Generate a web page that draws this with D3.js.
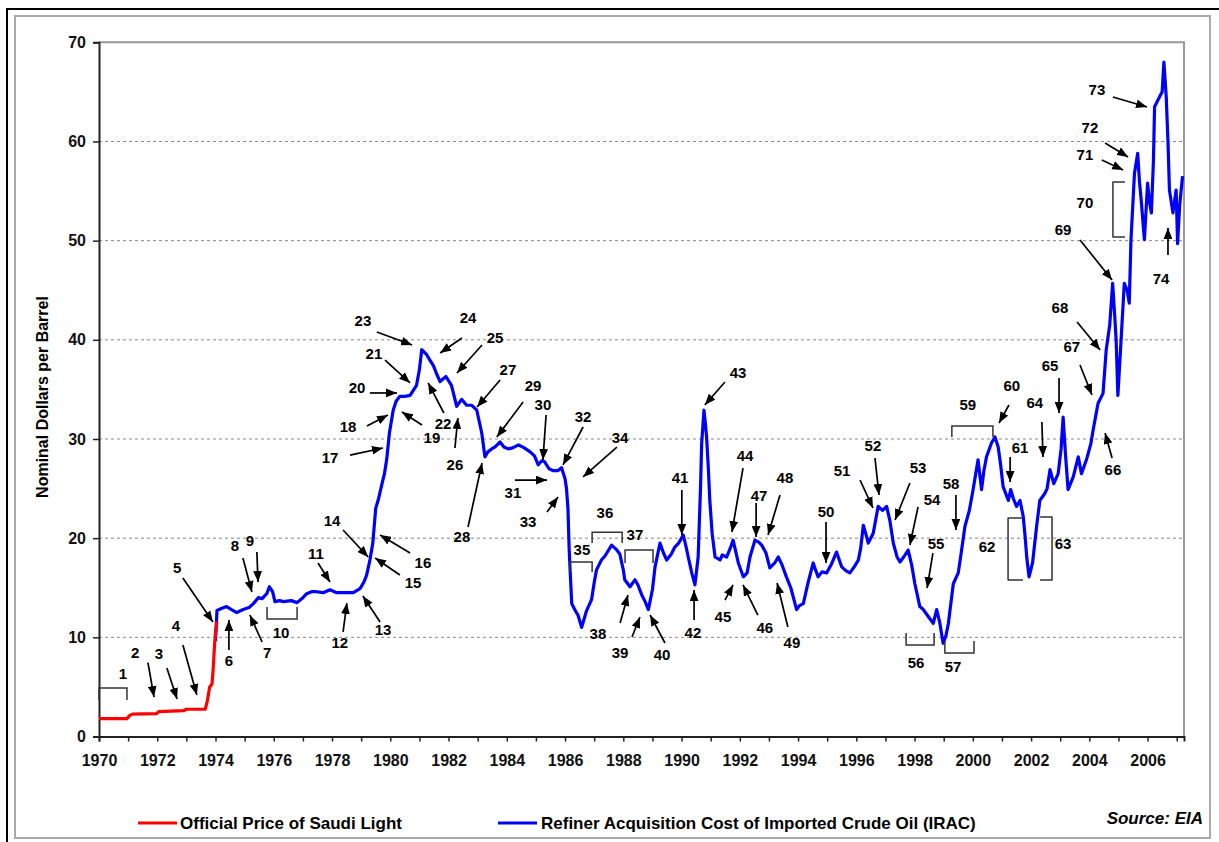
<!DOCTYPE html>
<html>
<head>
<meta charset="utf-8">
<script src="https://cdn.jsdelivr.net/npm/d3@7"></script>
<style>
  body { margin: 0; background: #fff; }
  svg text { font-family: "Liberation Sans", Arial, sans-serif; }
</style>
</head>
<body>
<script>
'use strict';

// official price of Saudi Light, [year, $/bbl]
const saudiLight = [
  [1970.0, 1.8], [1970.96, 1.8], [1971.05, 2.1], [1971.15, 2.25], [1971.97, 2.3],
  [1972.05, 2.5], [1972.9, 2.6], [1973.0, 2.75], [1973.65, 2.75], [1973.72, 3.6],
  [1973.8, 5.0], [1973.88, 5.3], [1973.92, 6.8], [1973.97, 9.4], [1974.0, 10.5], [1974.05, 11.6]
];

// refiner acquisition cost of imported crude (IRAC), [year, $/bbl]
const irac = [
  [1974.0, 9.6], [1974.05, 12.7], [1974.2, 12.9], [1974.38, 13.1], [1974.55, 12.8], [1974.73, 12.5],
  [1974.95, 12.8], [1975.15, 13.0], [1975.3, 13.4], [1975.47, 14.0], [1975.6, 13.9], [1975.76, 14.4],
  [1975.85, 15.1], [1975.96, 14.6], [1976.04, 13.6], [1976.2, 13.7], [1976.33, 13.6], [1976.6, 13.7],
  [1976.8, 13.5], [1977.0, 14.0], [1977.13, 14.4], [1977.3, 14.6], [1977.47, 14.6], [1977.7, 14.5],
  [1977.93, 14.8], [1978.16, 14.5], [1978.5, 14.5], [1978.73, 14.5], [1978.96, 14.9], [1979.1, 15.6],
  [1979.19, 16.3], [1979.3, 17.8], [1979.4, 19.5], [1979.5, 23.0], [1979.6, 24.0], [1979.7, 25.3],
  [1979.8, 26.5], [1979.88, 28.0], [1979.97, 30.6], [1980.1, 32.9], [1980.2, 33.8], [1980.33, 34.3],
  [1980.5, 34.3], [1980.68, 34.4], [1980.9, 35.4], [1981.0, 37.0], [1981.08, 39.0], [1981.25, 38.5],
  [1981.35, 38.0], [1981.48, 37.4], [1981.6, 36.5], [1981.71, 35.8], [1981.91, 36.3], [1982.1, 35.4],
  [1982.28, 33.3], [1982.45, 34.0], [1982.62, 33.4], [1982.8, 33.4], [1982.97, 32.9], [1983.14, 30.6],
  [1983.25, 28.2], [1983.35, 28.7], [1983.48, 29.0], [1983.6, 29.2], [1983.77, 29.7], [1983.9, 29.2],
  [1984.05, 29.0], [1984.2, 29.1], [1984.4, 29.4], [1984.6, 29.1], [1984.8, 28.7], [1984.95, 28.3],
  [1985.08, 27.4], [1985.2, 27.8], [1985.3, 27.7], [1985.45, 27.0], [1985.6, 26.8], [1985.75, 26.8],
  [1985.88, 27.1], [1986.0, 26.0], [1986.05, 25.0], [1986.1, 23.0], [1986.14, 19.0], [1986.17, 17.0],
  [1986.23, 13.4], [1986.35, 12.7], [1986.45, 12.2], [1986.57, 11.0], [1986.66, 11.9], [1986.74, 12.7],
  [1986.91, 13.8], [1987.0, 15.5], [1987.08, 16.8], [1987.25, 17.8], [1987.37, 18.2], [1987.6, 19.3],
  [1987.75, 18.9], [1987.88, 18.4], [1988.0, 16.8], [1988.05, 15.8], [1988.23, 15.1], [1988.4, 15.8],
  [1988.5, 15.3], [1988.63, 14.3], [1988.75, 13.6], [1988.86, 12.8], [1989.0, 14.8], [1989.09, 17.1],
  [1989.26, 19.5], [1989.38, 18.5], [1989.49, 17.8], [1989.65, 18.4], [1989.77, 19.1], [1989.9, 19.5],
  [1990.06, 20.3], [1990.15, 19.2], [1990.23, 18.1], [1990.35, 16.5], [1990.46, 15.3], [1990.57, 18.1],
  [1990.65, 25.0], [1990.69, 29.5], [1990.77, 32.9], [1990.82, 31.5], [1990.86, 30.2], [1990.92, 27.0],
  [1990.97, 23.8], [1991.05, 20.5], [1991.15, 18.1], [1991.32, 17.8], [1991.4, 18.3], [1991.55, 18.1],
  [1991.7, 19.2], [1991.77, 19.8], [1991.95, 17.5], [1992.12, 16.1], [1992.25, 16.5], [1992.35, 18.1],
  [1992.52, 19.8], [1992.65, 19.6], [1992.75, 19.3], [1992.9, 18.5], [1993.03, 17.0], [1993.2, 17.5],
  [1993.32, 18.1], [1993.45, 17.3], [1993.6, 16.1], [1993.75, 15.0], [1993.95, 12.8], [1994.05, 13.2],
  [1994.18, 13.4], [1994.35, 15.6], [1994.52, 17.5], [1994.6, 16.8], [1994.69, 16.1], [1994.82, 16.6],
  [1994.98, 16.5], [1995.15, 17.4], [1995.32, 18.6], [1995.5, 17.1], [1995.65, 16.7], [1995.78, 16.5],
  [1995.95, 17.2], [1996.07, 17.8], [1996.15, 19.0], [1996.24, 21.3], [1996.32, 20.5], [1996.41, 19.5],
  [1996.58, 20.5], [1996.75, 23.2], [1996.9, 22.8], [1997.04, 23.2], [1997.15, 21.8], [1997.27, 19.5],
  [1997.4, 18.1], [1997.5, 17.6], [1997.65, 18.2], [1997.78, 18.8], [1997.9, 17.3], [1998.01, 15.4],
  [1998.18, 13.1], [1998.3, 12.8], [1998.47, 12.1], [1998.64, 11.4], [1998.76, 12.8], [1998.87, 11.4],
  [1998.98, 9.4], [1999.08, 10.2], [1999.16, 11.4], [1999.33, 15.4], [1999.5, 16.5], [1999.6, 18.5],
  [1999.73, 21.2], [1999.88, 22.8], [2000.01, 24.9], [2000.1, 26.5], [2000.18, 27.9], [2000.3, 24.9],
  [2000.38, 26.8], [2000.47, 28.2], [2000.64, 29.6], [2000.76, 30.2], [2000.87, 29.2], [2000.95, 27.5],
  [2001.04, 25.2], [2001.22, 23.8], [2001.3, 24.9], [2001.39, 24.0], [2001.5, 23.2], [2001.62, 23.8],
  [2001.73, 22.2], [2001.8, 20.0], [2001.85, 18.1], [2001.93, 16.1], [2002.05, 17.5], [2002.19, 21.2],
  [2002.3, 23.8], [2002.47, 24.5], [2002.55, 25.0], [2002.65, 26.9], [2002.78, 25.5], [2002.93, 26.5],
  [2003.03, 29.0], [2003.1, 32.2], [2003.18, 28.5], [2003.27, 24.9], [2003.45, 26.2], [2003.62, 28.2],
  [2003.73, 26.5], [2003.9, 27.9], [2004.05, 29.5], [2004.13, 30.9], [2004.3, 33.6], [2004.47, 34.6],
  [2004.58, 39.0], [2004.7, 41.5], [2004.8, 45.7], [2004.88, 42.0], [2004.92, 40.0], [2004.98, 34.4],
  [2005.1, 40.5], [2005.2, 45.7], [2005.3, 45.0], [2005.37, 43.7], [2005.43, 50.1], [2005.55, 56.8],
  [2005.66, 58.8], [2005.72, 56.0], [2005.78, 54.1], [2005.89, 50.1], [2006.0, 55.8], [2006.06, 54.0],
  [2006.13, 52.8], [2006.2, 58.0], [2006.24, 63.5], [2006.41, 64.5], [2006.5, 65.0], [2006.56, 68.0],
  [2006.64, 64.5], [2006.7, 60.0], [2006.75, 55.1], [2006.87, 52.8], [2006.98, 55.1], [2007.03, 49.7],
  [2007.1, 53.5], [2007.2, 56.5]
];

const yTicks = [0, 10, 20, 30, 40, 50, 60, 70];
const yearTicks = d3.range(1970, 2008, 1);

// event numbers: [label, year, value]
const eventLabels = [
  ["1", 1970.82, 6.4], ["2", 1971.24, 8.42], ["3", 1972.06, 8.32], ["4", 1972.64, 11.24],
  ["5", 1972.68, 17.09], ["6", 1974.46, 7.71], ["7", 1975.77, 8.52], ["8", 1974.67, 19.31],
  ["9", 1975.18, 19.81], ["10", 1976.25, 10.44], ["11", 1977.45, 18.5], ["12", 1978.27, 9.43],
  ["13", 1979.75, 10.74], ["14", 1978.0, 21.83], ["15", 1980.78, 15.48], ["16", 1981.12, 17.5],
  ["17", 1977.93, 28.18], ["18", 1978.55, 31.21], ["19", 1981.43, 30.2], ["20", 1978.86, 35.24],
  ["21", 1979.44, 38.67], ["22", 1981.81, 31.61], ["23", 1979.06, 41.9], ["24", 1982.67, 42.2],
  ["25", 1983.6, 40.28], ["26", 1982.22, 27.38], ["27", 1984.04, 36.96], ["28", 1982.46, 20.12],
  ["29", 1984.9, 35.44], ["30", 1985.24, 33.43], ["31", 1984.21, 24.56], ["32", 1986.62, 32.22],
  ["33", 1984.73, 21.63], ["34", 1987.89, 30.2], ["35", 1986.58, 18.83], ["36", 1987.37, 22.54],
  ["37", 1988.4, 20.32], ["38", 1987.13, 10.34], ["39", 1987.89, 8.52], ["40", 1989.33, 8.22],
  ["41", 1989.95, 26.07], ["42", 1990.39, 10.44], ["43", 1991.94, 36.75], ["44", 1992.18, 28.38],
  ["45", 1991.42, 12.05], ["46", 1992.86, 11.04], ["47", 1992.66, 24.35], ["48", 1993.55, 26.07],
  ["49", 1993.79, 9.43], ["50", 1994.96, 22.64], ["51", 1995.51, 26.87], ["52", 1996.57, 29.39],
  ["53", 1998.12, 27.17], ["54", 1998.6, 23.85], ["55", 1998.74, 19.51], ["56", 1998.05, 7.51],
  ["57", 1999.32, 7.01], ["58", 1999.25, 25.56], ["59", 1999.83, 33.43], ["60", 2001.34, 35.44],
  ["61", 2001.62, 29.19], ["62", 2000.49, 19.11], ["63", 2003.1, 19.51], ["64", 2002.13, 33.63],
  ["65", 2002.65, 37.46], ["66", 2004.81, 26.97], ["67", 2003.4, 39.28], ["68", 2002.99, 43.21],
  ["69", 2003.1, 51.08], ["70", 2003.85, 53.8], ["71", 2003.85, 58.64], ["72", 2004.02, 61.37],
  ["73", 2004.26, 65.2], ["74", 2006.46, 46.23]
];

// arrows: [fromYear, fromValue, toYear, toValue] (head at "to")
const eventArrows = [
  [1971.68, 7.45, 1971.89, 3.98], [1972.33, 6.91, 1972.68, 3.78], [1972.88, 9.23, 1973.36, 4.18],
  [1972.88, 15.98, 1973.91, 11.55], [1974.46, 8.72, 1974.46, 11.75], [1975.6, 9.53, 1975.18, 12.25],
  [1974.94, 18.0, 1975.25, 14.57], [1975.42, 18.6, 1975.46, 15.58], [1977.52, 17.5, 1977.93, 15.58],
  [1978.38, 10.54, 1978.51, 13.46], [1979.65, 11.55, 1979.06, 14.17], [1978.38, 20.82, 1979.24, 18.1],
  [1980.33, 16.28, 1979.48, 18.0], [1980.68, 18.5, 1979.65, 20.32], [1978.62, 28.38, 1979.75, 29.09],
  [1979.2, 31.31, 1979.92, 32.42], [1981.09, 31.41, 1980.4, 32.72], [1979.3, 34.64, 1980.23, 34.64],
  [1979.82, 37.96, 1980.68, 35.65], [1981.84, 32.62, 1981.3, 35.65], [1979.54, 40.79, 1980.75, 39.48],
  [1982.46, 40.18, 1981.71, 38.67], [1983.15, 39.48, 1982.29, 36.65], [1982.22, 29.09, 1982.32, 32.12],
  [1983.77, 35.95, 1982.98, 33.23], [1982.67, 21.13, 1983.15, 27.58], [1984.56, 33.73, 1983.66, 30.2],
  [1985.35, 32.42, 1985.24, 27.88], [1984.28, 25.86, 1985.38, 25.86], [1986.62, 31.21, 1985.93, 27.38],
  [1985.38, 22.64, 1985.76, 24.15], [1987.78, 29.19, 1986.62, 26.17], [1987.89, 11.45, 1988.16, 14.27],
  [1988.3, 10.03, 1988.57, 12.05], [1989.43, 9.43, 1988.92, 12.25], [1990.01, 24.86, 1990.01, 20.32],
  [1990.43, 11.75, 1990.43, 14.77], [1991.49, 35.75, 1990.8, 33.43], [1992.11, 27.07, 1991.73, 20.62],
  [1991.49, 13.76, 1991.77, 15.28], [1992.62, 12.25, 1992.11, 15.28], [1992.56, 23.55, 1992.56, 20.12],
  [1993.38, 24.35, 1992.97, 20.32], [1993.65, 11.04, 1993.28, 15.48], [1994.96, 21.63, 1994.96, 17.5],
  [1996.13, 25.86, 1996.57, 23.04], [1996.64, 28.08, 1996.78, 24.35], [1997.84, 25.56, 1997.33, 21.83],
  [1998.12, 23.15, 1997.84, 19.31], [1998.63, 18.5, 1998.43, 14.97], [1999.42, 24.35, 1999.42, 20.82],
  [2001.24, 33.43, 2000.9, 31.61], [2001.28, 28.18, 2001.28, 25.66], [2002.37, 31.71, 2002.41, 28.18],
  [2002.96, 36.15, 2002.96, 32.62], [2004.78, 28.08, 2004.54, 30.6], [2003.68, 37.46, 2004.09, 34.44],
  [2003.58, 41.8, 2004.37, 38.98], [2003.68, 50.07, 2004.78, 46.03], [2004.43, 58.13, 2005.16, 57.12],
  [2004.54, 59.85, 2005.33, 58.44], [2004.81, 64.49, 2005.98, 63.48], [2006.7, 48.55, 2006.7, 51.27]
];

// horizontal brackets: [fromYear, toYear, barValue, legValue]
const hBrackets = [
  [1970.0, 1970.96, 4.89, 3.68], [1975.77, 1976.8, 11.85, 13.06], [1986.17, 1986.93, 17.6, 16.6],
  [1986.93, 1987.96, 20.6, 19.5], [1988.06, 1989.02, 18.8, 17.5], [1997.71, 1998.67, 9.23, 10.44],
  [1999.04, 2000.04, 8.42, 9.63], [1999.28, 2000.69, 31.31, 30.2]
];
// vertical brackets: [barYear, legYear, topValue, bottomValue]
const vBrackets = [
  [2001.21, 2001.72, 22.03, 15.78], [2002.72, 2002.31, 22.13, 15.78], [2004.81, 2005.22, 55.92, 50.37]
];

const svg = d3.select('body').append('svg')
  .attr('width', 1219)
  .attr('height', 842);

// frame
svg.append('rect').attr('x', 7).attr('y', 9).attr('width', 1230).attr('height', 850)
  .style('fill', 'none').style('stroke', '#000').style('stroke-width', 2);
svg.append('rect').attr('x', 15).attr('y', 16).attr('width', 1195).attr('height', 822)
  .style('fill', 'none').style('stroke', '#aaa').style('stroke-width', 2);

const x = d3.scaleLinear().domain([1970, 2007.25]).range([99, 1184]);
const y = d3.scaleLinear().domain([0, 70]).range([736.5, 42.3]);

// grid lines
svg.append('g').selectAll('line')
  .data(yTicks.filter(d => d > 0 && d < 70))
  .enter().append('line')
  .attr('x1', x(1970)).attr('x2', x(2007.25))
  .attr('y1', d => y(d)).attr('y2', d => y(d))
  .style('stroke', '#888').style('stroke-width', 1).style('stroke-dasharray', '3,3');

// plot border top/right
svg.append('path')
  .attr('d', `M${x(1970)},${y(70)}H${x(2007.25)}V${y(0)}`)
  .style('fill', 'none').style('stroke', '#999').style('stroke-width', 2);

// y axis
const yAxis = svg.append('g')
  .attr('transform', `translate(${x(1970)},0)`)
  .call(d3.axisLeft(y).tickValues(yTicks).tickSize(6).tickPadding(7));
yAxis.select('.domain').style('stroke', '#222').style('stroke-width', 2);
yAxis.selectAll('.tick line').style('stroke', '#222').style('stroke-width', 1.5);
yAxis.selectAll('text')
  .style('font-size', '16px').style('font-weight', 'bold').style('fill', '#111');

// x axis: ticks every year, labels every other year
const xAxis = svg.append('g')
  .attr('transform', `translate(0,${y(0)})`)
  .call(d3.axisBottom(x).tickValues(yearTicks).tickSize(5).tickPadding(13)
    .tickFormat(d => (d % 2 === 0 && d < 2007) ? String(d) : ''));
xAxis.select('.domain').style('stroke', '#222').style('stroke-width', 2);
xAxis.selectAll('.tick line').style('stroke', '#222').style('stroke-width', 1.5);
xAxis.selectAll('text')
  .style('font-size', '16px').style('font-weight', 'bold').style('fill', '#111');

svg.append('text')
  .attr('transform', 'translate(48,397)rotate(-90)')
  .attr('text-anchor', 'middle')
  .style('font-size', '16px').style('font-weight', 'bold')
  .text('Nominal Dollars per Barrel');

// series
const line = d3.line().x(d => x(d[0])).y(d => y(d[1]));
svg.append('path').datum(irac).attr('d', line)
  .style('fill', 'none').style('stroke', '#0000ff').style('stroke-width', 3.2)
  .style('stroke-linejoin', 'round');
svg.append('path').datum(saudiLight).attr('d', line)
  .style('fill', 'none').style('stroke', '#ff0000').style('stroke-width', 3.2)
  .style('stroke-linejoin', 'round');

// arrow head
svg.append('defs').append('marker')
  .attr('id', 'head')
  .attr('markerUnits', 'userSpaceOnUse')
  .attr('viewBox', '0 0 10 8')
  .attr('refX', 10).attr('refY', 4)
  .attr('markerWidth', 11).attr('markerHeight', 9)
  .attr('orient', 'auto')
  .append('path').attr('d', 'M0,0L10,4L0,8Z').style('fill', '#000');

svg.append('g').selectAll('line')
  .data(eventArrows)
  .enter().append('line')
  .attr('x1', d => x(d[0])).attr('y1', d => y(d[1]))
  .attr('x2', d => x(d[2])).attr('y2', d => y(d[3]))
  .style('stroke', '#000').style('stroke-width', 1.7)
  .attr('marker-end', 'url(#head)');

svg.append('g').selectAll('path')
  .data(hBrackets)
  .enter().append('path')
  .attr('d', d => `M${x(d[0])},${y(d[3])}V${y(d[2])}H${x(d[1])}V${y(d[3])}`)
  .style('fill', 'none').style('stroke', '#333').style('stroke-width', 1.5);

svg.append('g').selectAll('path')
  .data(vBrackets)
  .enter().append('path')
  .attr('d', d => `M${x(d[1])},${y(d[2])}H${x(d[0])}V${y(d[3])}H${x(d[1])}`)
  .style('fill', 'none').style('stroke', '#333').style('stroke-width', 1.5)
  .style('stroke-linejoin', 'round');

svg.append('g').selectAll('text')
  .data(eventLabels)
  .enter().append('text')
  .attr('x', d => x(d[1])).attr('y', d => y(d[2]))
  .attr('text-anchor', 'middle')
  .attr('dominant-baseline', 'central')
  .style('font-size', '15px').style('font-weight', 'bold').style('fill', '#000')
  .text(d => d[0]);

// legend
const legend = svg.append('g').style('font-size', '17px').style('font-weight', 'bold');
legend.append('line').attr('x1', 138).attr('x2', 177).attr('y1', 823).attr('y2', 823)
  .style('stroke', '#ff0000').style('stroke-width', 3);
legend.append('text').attr('x', 180).attr('y', 829).text('Official Price of Saudi Light');
legend.append('line').attr('x1', 498).attr('x2', 537).attr('y1', 823).attr('y2', 823)
  .style('stroke', '#0000ff').style('stroke-width', 3);
legend.append('text').attr('x', 541).attr('y', 829)
  .text('Refiner Acquisition Cost of Imported Crude Oil (IRAC)');
svg.append('text').attr('x', 1203).attr('y', 824).attr('text-anchor', 'end')
  .style('font-size', '17px').style('font-weight', 'bold').style('font-style', 'italic')
  .text('Source: EIA');
</script>
</body>
</html>
